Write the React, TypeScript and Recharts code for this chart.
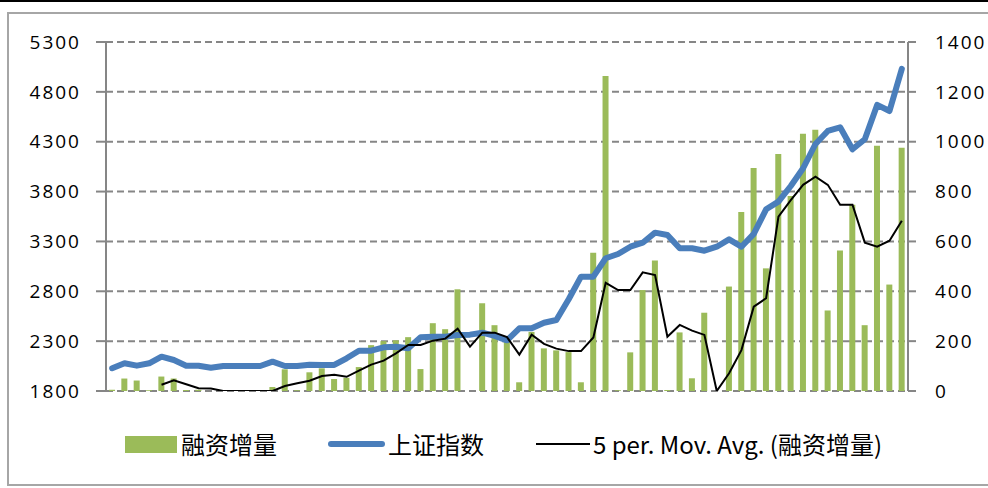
import React from "react";
import {
  ComposedChart,
  Bar,
  Line,
  XAxis,
  YAxis,
  CartesianGrid,
} from "recharts";

// 65 periods, no labels shown on the x axis
const periods = [
  1, 2, 3, 4, 5, 6, 7, 8, 9, 10, 11, 12, 13, 14, 15, 16, 17, 18, 19, 20,
  21, 22, 23, 24, 25, 26, 27, 28, 29, 30, 31, 32, 33, 34, 35, 36, 37, 38, 39, 40,
  41, 42, 43, 44, 45, 46, 47, 48, 49, 50, 51, 52, 53, 54, 55, 56, 57, 58, 59, 60,
  61, 62, 63, 64, 65,
];

// 融资增量 (right axis)
const financing = [
  5, 50, 42, 3, 58, 50, 4, 5, 0, 3,
  4, 4, 2, 16, 87, 3, 75, 91, 48, 53,
  96, 184, 200, 203, 216, 88, 272, 248, 408, -115,
  352, 264, 198, 35, 237, 171, 163, 156, 35, 555,
  1264, 3, 155, 405, 523, 4, 235, 51, 314, -650,
  419, 718, 895, 492, 951, 782, 1032, 1048, 323, 564,
  747, 264, 984, 427, 976,
];

// 上证指数 (left axis)
const shIndex = [
  2028, 2078, 2054, 2078, 2144, 2111, 2054, 2054, 2034, 2051,
  2051, 2051, 2051, 2094, 2051, 2051, 2064, 2061, 2061, 2128,
  2204, 2204, 2238, 2244, 2228, 2338, 2345, 2345, 2362, 2365,
  2385, 2352, 2308, 2429, 2429, 2485, 2512, 2720, 2947, 2947,
  3131, 3174, 3247, 3287, 3388, 3365, 3231, 3231, 3207, 3247,
  3321, 3247, 3375, 3622, 3699, 3856, 4034, 4277, 4408, 4445,
  4224, 4325, 4669, 4608, 5030,
];

// 5 per. Mov. Avg. (融资增量)
const movAvg: (number | null)[] = [
  null, null, null, null, 25, 43, 27, 11, 10, 0,
  0, 0, 0, 0, 20, 31, 41, 60, 65, 57,
  82, 106, 122, 151, 185, 185, 202, 210, 250, 178,
  234, 234, 216, 146, 226, 189, 170, 160, 160, 215,
  434, 405, 405, 476, 465, 218, 265, 242, 225, 0,
  71, 164, 338, 372, 699, 766, 827, 860, 827, 747,
  747, 595, 579, 603, 683,
];

const leftTicks = [1800, 2300, 2800, 3300, 3800, 4300, 4800, 5300];
const rightTicks = [0, 200, 400, 600, 800, 1000, 1200, 1400];

const GREEN = "#9bbb59";
const BLUE = "#4a7ebb";
const GRID = "#868686";

const data = periods.map((p, i) => ({
  period: p,
  financing: financing[i],
  index: shIndex[i],
  ma: movAvg[i],
}));

const tickStyle = {
  fill: "#000",
  fontSize: 19,
  fontFamily: "'Open Sans', sans-serif",
  letterSpacing: 2,
};

const legendText: React.CSSProperties = {
  position: "absolute",
  top: 430,
  fontSize: 24,
  lineHeight: "28px",
  fontFamily: "'Noto Sans CJK SC', sans-serif",
  color: "#000",
  whiteSpace: "nowrap",
};

export default function App() {
  return (
    <div
      style={{
        position: "absolute",
        left: 0,
        top: 0,
        width: 988,
        height: 488,
        background: "#fff",
        overflow: "hidden",
      }}
    >
      {/* outer frame */}
      <div style={{ position: "absolute", left: 0, top: 0, width: 988, height: 2, background: "#000" }} />
      <div
        style={{
          position: "absolute",
          left: 7,
          top: 12,
          width: 1000,
          height: 474,
          border: "2px solid #a6a6a6",
          boxSizing: "border-box",
        }}
      />

      <div style={{ position: "absolute", left: 0, top: 0 }}>
        <ComposedChart
          width={988}
          height={488}
          data={data}
          margin={{ top: 42, right: 0, bottom: 97, left: 6 }}
        >
          <CartesianGrid
            yAxisId="left"
            vertical={false}
            stroke={GRID}
            strokeWidth={2}
            strokeDasharray="7 4"
          />
          <XAxis dataKey="period" hide />
          <YAxis
            yAxisId="left"
            orientation="left"
            width={100}
            domain={[1800, 5300]}
            ticks={leftTicks}
            interval={0}
            axisLine={{ stroke: GRID, strokeWidth: 2 }}
            tickLine={{ stroke: GRID, strokeWidth: 2 }}
            tickSize={10}
            tickMargin={15}
            tick={tickStyle}
          />
          <YAxis
            yAxisId="right"
            orientation="right"
            width={80}
            domain={[0, 1400]}
            allowDataOverflow
            ticks={rightTicks}
            interval={0}
            axisLine={{ stroke: GRID, strokeWidth: 2 }}
            tickLine={{ stroke: GRID, strokeWidth: 2 }}
            tickSize={8}
            tickMargin={19}
            tick={tickStyle}
          />
          <Bar
            yAxisId="right"
            dataKey="financing"
            fill={GREEN}
            barSize={6}
            isAnimationActive={false}
          />
          <Line
            yAxisId="left"
            type="linear"
            dataKey="index"
            stroke={BLUE}
            strokeWidth={6}
            strokeLinejoin="round"
            strokeLinecap="round"
            dot={false}
            activeDot={false}
            isAnimationActive={false}
          />
          <Line
            yAxisId="right"
            type="linear"
            dataKey="ma"
            stroke="#000"
            strokeWidth={2}
            dot={false}
            activeDot={false}
            isAnimationActive={false}
          />
        </ComposedChart>
      </div>

      {/* legend */}
      <div style={{ position: "absolute", left: 125, top: 436, width: 52, height: 17, background: GREEN }} />
      <span style={{ ...legendText, left: 181 }}>融资增量</span>
      <div style={{ position: "absolute", left: 328, top: 441, width: 57, height: 6, borderRadius: 3, background: BLUE }} />
      <span style={{ ...legendText, left: 388 }}>上证指数</span>
      <div style={{ position: "absolute", left: 536, top: 443, width: 54, height: 2, background: "#000" }} />
      <span style={{ ...legendText, left: 593 }}>5 per. Mov. Avg. (融资增量)</span>
    </div>
  );
}
